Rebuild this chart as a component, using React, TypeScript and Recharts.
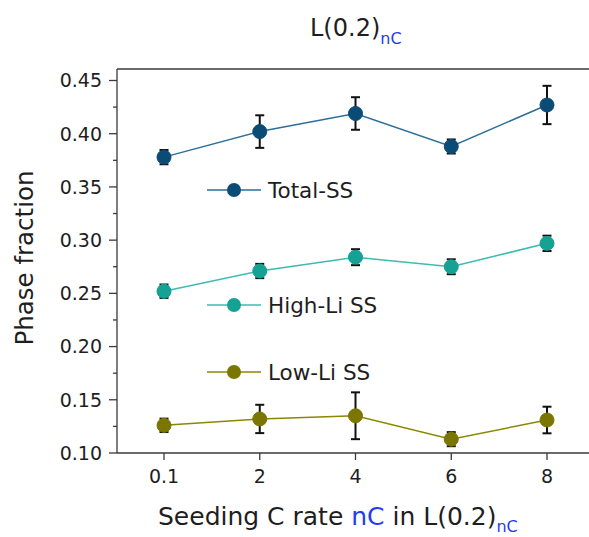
import { ComposedChart, Line, XAxis, YAxis, ErrorBar, ReferenceLine } from 'recharts';

// seeding C rate (categories) and phase fractions with their error half-widths
const rates = ['0.1', '2', '4', '6', '8'];
const totalSS = [0.378, 0.402, 0.419, 0.388, 0.427];
const totalErr = [0.0067, 0.0153, 0.0153, 0.0066, 0.018];
const highLi = [0.252, 0.271, 0.284, 0.275, 0.297];
const highErr = [0.0063, 0.0067, 0.0075, 0.007, 0.0072];
const lowLi = [0.126, 0.132, 0.135, 0.113, 0.131];
const lowErr = [0.0063, 0.0133, 0.022, 0.0066, 0.0125];

const yMajor = [0.1, 0.15, 0.2, 0.25, 0.3, 0.35, 0.4, 0.45];
const Y_MIN = 0.1;
const Y_MAX = 0.4608;

const FONT = '"DejaVu Sans", "Liberation Sans", Arial, sans-serif';
const INK = '#1e1e1e';
const AXIS = '#3a3a3a';
const BLUE = '#1f3df2';

const SERIES = {
  total: { line: '#2b6f9a', dot: '#0a4c76', label: 'Total-SS' },
  high: { line: '#3dbbb0', dot: '#15a193', label: 'High-Li SS' },
  low: { line: '#8c8700', dot: '#7b7600', label: 'Low-Li SS' },
};

const data = rates.map((rate, i) => ({
  rate,
  total: totalSS[i],
  totalErr: totalErr[i],
  high: highLi[i],
  highErr: highErr[i],
  low: lowLi[i],
  lowErr: lowErr[i],
}));

// major ticks plus a minor tick halfway between each pair
const yTicks = yMajor.flatMap((t, i) => (i < yMajor.length - 1 ? [t, +(t + 0.025).toFixed(3)] : [t]));
const isMajor = (v: number) => Math.abs(v * 20 - Math.round(v * 20)) < 1e-6;

const YTick = (props: any) => {
  const { x, y, payload } = props;
  const axisX = x + 8; // tickSize 6 + tickMargin 2
  const major = isMajor(payload.value);
  return (
    <g>
      <line x1={axisX - (major ? 8 : 4)} x2={axisX} y1={y} y2={y} stroke={AXIS} strokeWidth={1.3} />
      {major && (
        <text x={axisX - 15} y={y} dy="0.36em" textAnchor="end" fontSize={19} fill={INK} fontFamily={FONT}>
          {payload.value.toFixed(2)}
        </text>
      )}
    </g>
  );
};

const XTick = (props: any) => {
  const { x, y, payload } = props;
  return (
    <g>
      <line x1={x} x2={x} y1={y - 7} y2={y} stroke={AXIS} strokeWidth={1.3} />
      <text x={x} y={y + 23} textAnchor="middle" fontSize={19} fill={INK} fontFamily={FONT}>
        {payload.value}
      </text>
    </g>
  );
};

const legendRows = [
  { key: 'total', y: 190 },
  { key: 'high', y: 305 },
  { key: 'low', y: 372 },
] as const;

function Overlay() {
  return (
    <svg
      width={589}
      height={537}
      style={{ position: 'absolute', left: 0, top: 0, pointerEvents: 'none' }}
      fontFamily={FONT}
    >
      <text x={310} y={36} fontSize={24} fill={INK}>
        L(0.2)
        <tspan fill={BLUE} fontSize={16} dy={8}>nC</tspan>
      </text>

      <text x={158} y={525} fontSize={25} fill={INK}>
        Seeding C rate <tspan fill={BLUE}>nC</tspan> in L(0.2)
        <tspan fill={BLUE} fontSize={16} dy={7}>nC</tspan>
      </text>

      <text
        x={33}
        y={258}
        fontSize={24.5}
        fill={INK}
        textAnchor="middle"
        transform="rotate(-90 33 258)"
      >
        Phase fraction
      </text>

      {legendRows.map(({ key, y }) => {
        const s = SERIES[key];
        return (
          <g key={key}>
            <line x1={207} x2={261} y1={y} y2={y} stroke={s.line} strokeWidth={1.5} />
            <circle cx={234} cy={y} r={7} fill={s.dot} />
            <text x={268} y={y + 8} fontSize={21.5} fill={INK}>
              {s.label}
            </text>
          </g>
        );
      })}
    </svg>
  );
}

export default function App() {
  const keys = ['total', 'high', 'low'] as const;
  return (
    <div
      style={{
        position: 'absolute',
        left: 0,
        top: 0,
        width: 589,
        height: 537,
        overflow: 'hidden',
        background: '#fff',
      }}
    >
      <ComposedChart width={620} height={537} data={data} margin={{ top: 69, right: 26, bottom: 54, left: 57 }}>
        <XAxis
          dataKey="rate"
          height={30}
          padding={{ left: 47, right: 47 }}
          tickSize={7}
          tickMargin={0}
          tickLine={false}
          tick={<XTick />}
          axisLine={{ stroke: AXIS, strokeWidth: 1.3 }}
        />
        <YAxis
          type="number"
          width={60}
          domain={[Y_MIN, Y_MAX]}
          allowDataOverflow
          ticks={yTicks}
          interval={0}
          tickSize={6}
          tickMargin={2}
          tickLine={false}
          tick={<YTick />}
          axisLine={{ stroke: AXIS, strokeWidth: 1.3 }}
        />
        <ReferenceLine y={Y_MAX} stroke={AXIS} strokeWidth={1.3} ifOverflow="visible" />

        {keys.map((k) => (
          <Line
            key={k}
            dataKey={k}
            stroke={SERIES[k].line}
            strokeWidth={1.5}
            dot={{ r: 7, fill: SERIES[k].dot, stroke: SERIES[k].dot, strokeWidth: 1 }}
            activeDot={false}
            isAnimationActive={false}
          />
        ))}

        {/* error bars drawn on a second, invisible pass so they sit above the markers */}
        {keys.map((k) => (
          <Line
            key={`${k}-err`}
            dataKey={k}
            stroke="none"
            dot={false}
            activeDot={false}
            legendType="none"
            isAnimationActive={false}
          >
            <ErrorBar
              dataKey={`${k}Err`}
              direction="y"
              width={4.5}
              stroke="#111"
              strokeWidth={2}
              isAnimationActive={false}
            />
          </Line>
        ))}
      </ComposedChart>
      <Overlay />
    </div>
  );
}
